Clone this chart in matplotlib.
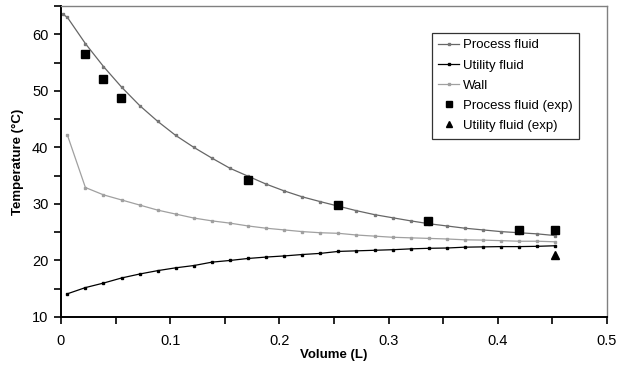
import matplotlib
matplotlib.use('Agg')
import matplotlib.pyplot as plt
from matplotlib.ticker import MultipleLocator

# model grid (L)
vol = [0.0058 + 0.01655 * k for k in range(28)]

process = [63.0, 58.35, 54.3, 50.66, 47.4, 44.6, 42.1, 40.0, 38.1, 36.3,
           34.9, 33.5, 32.3, 31.25, 30.4, 29.6, 28.8, 28.1, 27.55, 27.0,
           26.5, 26.1, 25.7, 25.4, 25.1, 24.9, 24.7, 24.4]
utility = [14.1, 15.2, 16.0, 16.9, 17.6, 18.2, 18.7, 19.1, 19.7, 20.0,
           20.35, 20.6, 20.8, 21.05, 21.25, 21.6, 21.7, 21.8, 21.9, 22.05,
           22.15, 22.2, 22.35, 22.4, 22.45, 22.45, 22.5, 22.6]
wall = [42.2, 32.9, 31.6, 30.7, 29.8, 28.9, 28.2, 27.5, 27.0, 26.6,
        26.1, 25.7, 25.4, 25.1, 24.9, 24.8, 24.5, 24.3, 24.1, 24.0,
        23.9, 23.8, 23.65, 23.6, 23.5, 23.4, 23.4, 23.3]

# extra inlet point of the process fluid curve
proc_inlet_x = 0.002
proc_inlet_y = 63.5

exp_proc_x = [0.0223, 0.0385, 0.0553, 0.1715, 0.2537, 0.3364, 0.4194, 0.4527]
exp_proc_y = [56.5, 52.1, 48.7, 34.3, 29.8, 26.9, 25.3, 25.3]
exp_util_x = [0.4527]
exp_util_y = [20.9]

plt.rcParams['font.family'] = ['Liberation Sans', 'DejaVu Sans']

fig = plt.figure(figsize=(6.18, 3.74), dpi=100)
ax = fig.add_axes([61 / 618, 1 - 317 / 374, 546 / 618, 311 / 374])

ms = 2.0
ax.plot([proc_inlet_x] + vol, [proc_inlet_y] + process, color='#666666', lw=0.9,
        marker='s', ms=ms, mec='#777777', mfc='#777777', label='Process fluid')
ax.plot(vol, utility, color='black', lw=0.9, marker='s', ms=ms,
        label='Utility fluid')
ax.plot(vol, wall, color='#a0a0a0', lw=0.9, marker='s', ms=ms,
        mec='#a0a0a0', mfc='#a0a0a0', label='Wall')
ax.plot(exp_proc_x, exp_proc_y, ls='none', marker='s', ms=6, color='black',
        label='Process fluid (exp)')
ax.plot(exp_util_x, exp_util_y, ls='none', marker='^', ms=5.5, color='black',
        label='Utility fluid (exp)')

ax.set_xlim(0, 0.5)
ax.set_ylim(10, 65)
ax.xaxis.set_major_locator(MultipleLocator(0.1))
ax.xaxis.set_minor_locator(MultipleLocator(0.05))
ax.yaxis.set_major_locator(MultipleLocator(10))
ax.yaxis.set_minor_locator(MultipleLocator(5))
ax.set_xticks([0, 0.1, 0.2, 0.3, 0.4, 0.5])
ax.set_xticklabels(['0', '0.1', '0.2', '0.3', '0.4', '0.5'])

ax.tick_params(which='both', direction='out', labelsize=10.5, width=1.2)
ax.tick_params(which='major', length=5)
ax.tick_params(which='minor', length=5)
ax.tick_params(axis='x', pad=7)
ax.tick_params(axis='y', pad=4)

for s in ['left', 'bottom']:
    ax.spines[s].set_linewidth(1.4)
for s in ['top', 'right']:
    ax.spines[s].set_color('#808080')
    ax.spines[s].set_linewidth(1.0)

ax.set_xlabel('Volume (L)', fontsize=9.5, fontweight='bold', labelpad=1)
ax.set_ylabel('Temperature (°C)', fontsize=9.5, fontweight='bold', labelpad=6)

leg = ax.legend(loc='upper left', bbox_to_anchor=(364 / 546, 1 - 20 / 311),
                fontsize=9.5, frameon=True, fancybox=False, edgecolor='black',
                handlelength=1.6, handletextpad=0.3, labelspacing=0.6,
                borderpad=0.5, markerscale=0.75)
leg.get_frame().set_linewidth(0.9)

fig.savefig('out.png', dpi=100)
